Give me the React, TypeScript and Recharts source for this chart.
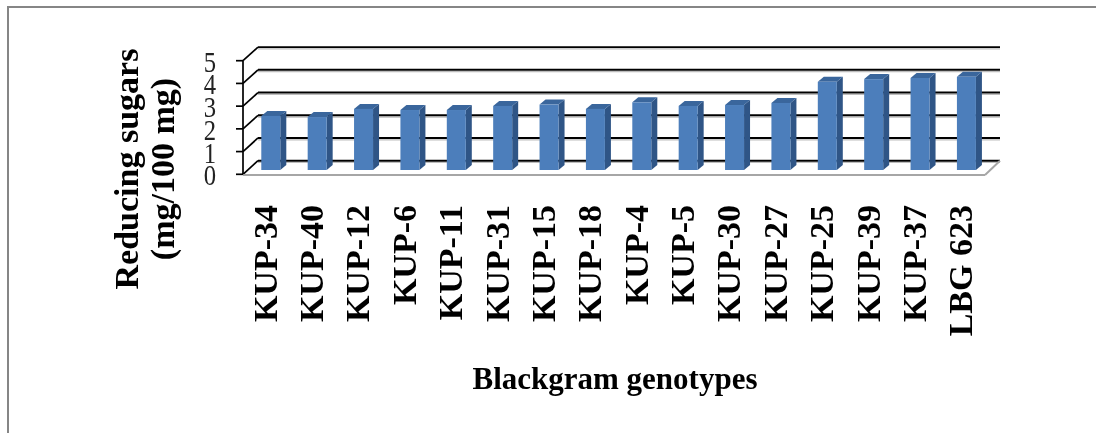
import { BarChart, Bar, CartesianGrid, XAxis, YAxis } from "recharts";

const genotypes = ["KUP-34", "KUP-40", "KUP-12", "KUP-6", "KUP-11", "KUP-31", "KUP-15", "KUP-18", "KUP-4", "KUP-5", "KUP-30", "KUP-27", "KUP-25", "KUP-39", "KUP-37", "LBG 623"];
const sugars = [2.38, 2.33, 2.69, 2.64, 2.64, 2.82, 2.88, 2.69, 2.98, 2.82, 2.86, 2.95, 3.88, 4.0, 4.05, 4.1];
const yTicks = [0, 1, 2, 3, 4, 5];

const data = genotypes.map((name, i) => ({ name, value: sugars[i] }));

const SERIF = '"Liberation Serif", serif';
const WALL_DX = 15;
const WALL_DY = 13.6;

// back wall lines plus the little diagonal going to the front axis
function GridLine(props: any) {
  const { x1, x2, y1 } = props;
  const isFloor = y1 > 170;
  return (
    <g key={props.key}>
      <line x1={x1 + WALL_DX} x2={x2 + WALL_DX} y1={y1 - WALL_DY + 1.8} y2={y1 - WALL_DY + 1.8} stroke="#bdbdbd" strokeWidth={1.2} />
      <line x1={x1 + WALL_DX} x2={x2 + WALL_DX} y1={y1 - WALL_DY} y2={y1 - WALL_DY} stroke="#000" strokeWidth={1.9} />
      <line x1={x1} x2={x1 + WALL_DX} y1={y1} y2={y1 - WALL_DY} stroke="#000" strokeWidth={1.7} />
      {isFloor && (
        <>
          <line x1={x1} x2={x2} y1={y1 + 0.6} y2={y1 + 0.6} stroke="#a6a6a6" strokeWidth={2} />
          <line x1={x2} x2={x2 + WALL_DX} y1={y1 + 0.6} y2={y1 - WALL_DY} stroke="#a6a6a6" strokeWidth={2} />
        </>
      )}
    </g>
  );
}

function Bar3D(props: any) {
  const { x, y, width, height } = props;
  const left = x + 4.3;
  const right = left + width;
  const top = y - 4.3;
  const base = y + height - 4.3;
  const dx = 6;
  const dy = 5;
  return (
    <g>
      <polygon points={`${right},${top} ${right + dx},${top - dy} ${right + dx},${base - dy} ${right},${base}`} fill="#2f5586" />
      <polygon points={`${left},${top} ${left + dx},${top - dy} ${right + dx},${top - dy} ${right},${top}`} fill="#3a669c" />
      <rect x={left} y={top} width={width} height={height} fill="#4c7ebb" />
    </g>
  );
}

function GenotypeTick({ x, payload }: any) {
  const baseX = x + 10.5;
  return (
    <text
      x={baseX}
      y={205}
      transform={`rotate(-90 ${baseX} 205)`}
      textAnchor="end"
      fontFamily={SERIF}
      fontWeight="bold"
      fontSize={34}
      fill="#000"
    >
      {payload.value}
    </text>
  );
}

// the digits are squeezed sideways in the original
function ValueTick({ y, payload }: any) {
  return (
    <text
      transform={`translate(210 ${y + 11}) scale(0.85 1)`}
      textAnchor="middle"
      fontFamily={SERIF}
      fontSize={29}
      fill="#222"
    >
      {payload.value}
    </text>
  );
}

function YTitle() {
  const common = { fontFamily: SERIF, fontWeight: "bold", fontSize: 34, fill: "#000", textAnchor: "middle" as const };
  return (
    <g>
      <text {...common} x={138} y={169} transform="rotate(-90 138 169)">Reducing sugars</text>
      <text {...common} x={174} y={169} transform="rotate(-90 174 169)">(mg/100 mg)</text>
    </g>
  );
}

function XTitle() {
  return (
    <text x={615} y={389} textAnchor="middle" fontFamily={SERIF} fontWeight="bold" fontSize={31} fill="#000">
      Blackgram genotypes
    </text>
  );
}

export default function App() {
  return (
    <div style={{ position: "absolute", left: 0, top: 0, width: 1096, height: 433, background: "#fff", overflow: "hidden" }}>
      <div style={{ position: "absolute", left: 7, top: 6, right: 0, bottom: 0, borderTop: "2px solid #868686", borderLeft: "2px solid #868686" }} />
      <div style={{ position: "absolute", left: 0, top: 0, filter: "blur(0.5px)" }}>
        <BarChart
          width={1096}
          height={433}
          data={data}
          margin={{ top: 60.7, right: 111, bottom: 0, left: 0 }}
          barCategoryGap={0}
        >
          <CartesianGrid vertical={false} horizontal={GridLine as any} />
          <XAxis dataKey="name" interval={0} axisLine={false} tickLine={false} height={258.7} tick={GenotypeTick} label={{ content: XTitle as any }} />
          <YAxis
            domain={[0, 5]}
            ticks={yTicks}
            interval={0}
            width={243}
            tickSize={7}
            axisLine={{ stroke: "#000", strokeWidth: 1.7 }}
            tickLine={{ stroke: "#000", strokeWidth: 1.7 }}
            tick={ValueTick}
            label={{ content: YTitle as any }}
          />
          <Bar dataKey="value" barSize={19} shape={Bar3D} isAnimationActive={false} />
        </BarChart>
      </div>
    </div>
  );
}
